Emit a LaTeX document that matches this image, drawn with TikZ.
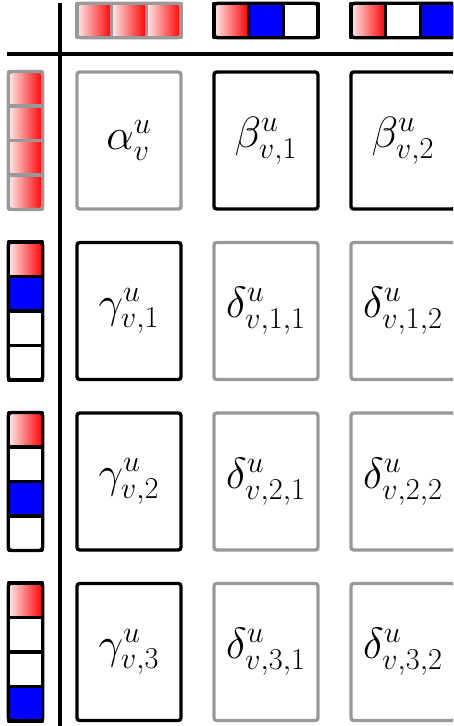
\documentclass[tikz,border=0pt]{standalone}
\usepackage{amsmath}
\usetikzlibrary{positioning}

\tikzset{
    cellbox/.style={draw, line width=1.9pt, minimum width=2.08cm, minimum height=2.74cm, rounded corners=1.5pt, inner sep=0pt, font=\fontsize{26.4}{30}\selectfont},
    graybox/.style={cellbox, draw=black!40},
    blackbox/.style={cellbox, draw=black},
    sqcell/.style={draw, line width=1.9pt, line join=round, inner sep=0pt, outer sep=0pt, minimum width=0.693cm, minimum height=0.69cm},
    redsq/.style={left color=red!8, right color=red},
    bluesq/.style={fill=blue},
    whitesq/.style={fill=white},
    stripline/.style={line width=1.9pt, rounded corners=2pt}
}

\begin{document}
\begin{tikzpicture}
    \clip (0,0) rectangle (9.06,-14.52);

    % Axes
    \coordinate (vtop) at (1.2,-0.06);
    \coordinate (vbot) at (1.2,-14.52);
    \coordinate (hleft) at (0.14,-1.08);
    \coordinate (hright) at (9.06,-1.08);
    \draw[line width=1.9pt] (vtop) -- (vbot);
    \draw[line width=1.9pt] (hleft) -- (hright);

    % Top strips
    \foreach \s [count=\k] in {redsq,redsq,redsq}
        \node[sqcell, draw=black!40, \s] (t1\k) at ({2.58+0.693*(\k-2)},-0.41) {};
    \draw[stripline, draw=black!40] (t11.north west) rectangle (t13.south east);
    \foreach \s [count=\k] in {redsq,bluesq,whitesq}
        \node[sqcell, \s] (t2\k) at ({5.32+0.693*(\k-2)},-0.41) {};
    \draw[stripline] (t21.north west) rectangle (t23.south east);
    \foreach \s [count=\k] in {redsq,whitesq,bluesq}
        \node[sqcell, \s] (t3\k) at ({8.06+0.693*(\k-2)},-0.41) {};
    \draw[stripline] (t31.north west) rectangle (t33.south east);

    % Side strips
    \foreach \s [count=\k] in {redsq,redsq,redsq,redsq}
        \node[sqcell, draw=black!40, \s] (s0\k) at (0.51,{-2.81-0.69*(\k-2.5)}) {};
    \draw[stripline, draw=black!40] (s01.north west) rectangle (s04.south east);
    \foreach \s [count=\k] in {redsq,bluesq,whitesq,whitesq}
        \node[sqcell, \s] (s1\k) at (0.51,{-6.22-0.69*(\k-2.5)}) {};
    \draw[stripline] (s11.north west) rectangle (s14.south east);
    \foreach \s [count=\k] in {redsq,whitesq,bluesq,whitesq}
        \node[sqcell, \s] (s2\k) at (0.51,{-9.63-0.69*(\k-2.5)}) {};
    \draw[stripline] (s21.north west) rectangle (s24.south east);
    \foreach \s [count=\k] in {redsq,whitesq,whitesq,bluesq}
        \node[sqcell, \s] (s3\k) at (0.51,{-13.04-0.69*(\k-2.5)}) {};
    \draw[stripline] (s31.north west) rectangle (s34.south east);

    % Coefficient boxes
    \node[graybox] (alpha) at (2.58,-2.81) {$\alpha^u_v$};
    \foreach \j in {1,2}
        \node[blackbox] (beta\j) at ({2.58+2.74*\j},-2.81) {$\beta^u_{v,\j}$};
    \foreach \i in {1,2,3} {
        \node[blackbox] (gamma\i) at (2.58,{-2.81-3.41*\i}) {$\gamma^u_{v,\i}$};
        \foreach \j in {1,2}
            \node[graybox] (delta\i\j) at ({2.58+2.74*\j},{-2.81-3.41*\i}) {$\delta^u_{v,\i,\j}$};
    }
\end{tikzpicture}
\end{document}
